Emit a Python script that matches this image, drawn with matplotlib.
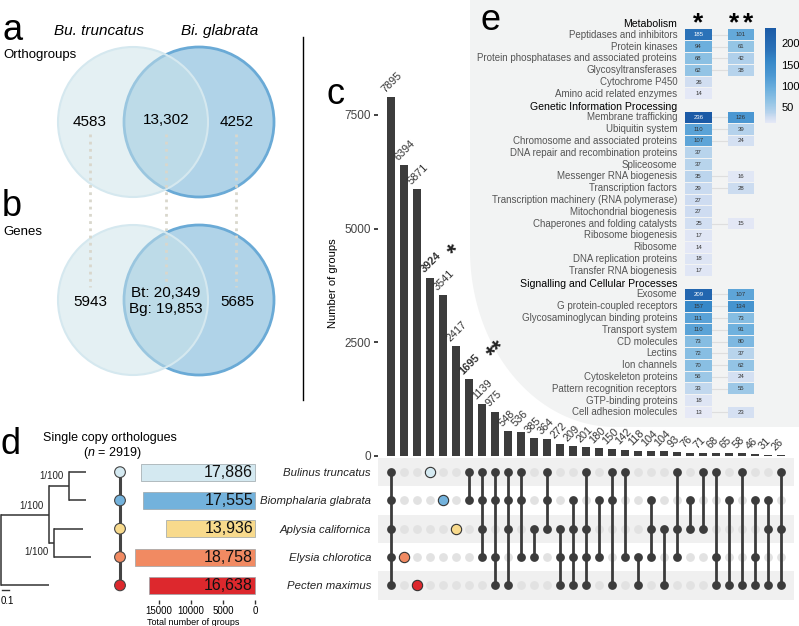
import numpy as np
import matplotlib
matplotlib.use('Agg')
import matplotlib.pyplot as plt
from matplotlib.patches import Circle, Polygon
from matplotlib.colors import LinearSegmentedColormap, Normalize

plt.rcParams['font.family'] = ['Liberation Sans', 'DejaVu Sans']
plt.rcParams['mathtext.fontset'] = 'custom'
plt.rcParams['mathtext.rm'] = 'Liberation Sans'
plt.rcParams['mathtext.it'] = 'Liberation Sans:italic'
plt.rcParams['mathtext.bf'] = 'Liberation Sans:bold'

W, H = 799, 626

# ---- panel a / b : venn ----
venn_titles = ['Bu. truncatus', 'Bi. glabrata']
orthogroups = [4583, 13302, 4252]
genes_unique = [5943, 5685]
genes_shared = [20349, 19853]

# ---- panel d ----
species = ['Bulinus truncatus', 'Biomphalaria glabrata', 'Aplysia californica',
           'Elysia chlorotica', 'Pecten maximus']
species_colors = ['#d4e9f1', '#73b2dc', '#f8da8c', '#f18a62', '#dd282d']
total_groups = [17886, 17555, 13936, 18758, 16638]
n_single_copy = 2919
# tree: node -> (depth from root, children); ints are leaves (row index)
tree_nodes = {'root': (0.0, ['gastro', 4]),
              'gastro': (0.686, ['panp', 'aplys']),
              'panp': (0.971, [0, 1]),
              'aplys': (0.757, [2, 3])}
leaf_depth = [1.214, 1.214, 1.171, 1.286, 0.686]
support = {'panp': '1/100', 'gastro': '1/100', 'aplys': '1/100'}

# ---- panel c : upset ----
set_codes = ['T', 'G', 'A', 'E', 'P']
inter_sizes = [7895, 6394, 5871, 3924, 3541, 2417, 1695, 1139, 975, 548, 536, 385, 364,
               272, 209, 201, 180, 150, 142, 118, 104, 104, 93, 76, 71, 68, 65, 58, 46, 31, 26]
inter_sets = ['TGAEP', 'E', 'P', 'T', 'G', 'A', 'TG', 'TGAE', 'TGEP', 'TGAP', 'TGE', 'AE',
              'TGA', 'AEP', 'GAEP', 'TAEP', 'GE', 'TGP', 'TE', 'EP', 'GAE', 'AP', 'TAE',
              'GA', 'TA', 'TEP', 'GP', 'TP', 'GEP', 'GAP', 'TAP']
starred = {3: '*', 6: '**'}

# ---- panel e : KEGG heatmap ----
kegg_groups = ['Metabolism', 'Genetic Information Processing',
               'Signalling and Cellular Processes']
kegg_terms = [
    ['Peptidases and inhibitors', 'Protein kinases',
     'Protein phosphatases and associated proteins', 'Glycosyltransferases',
     'Cytochrome P450', 'Amino acid related enzymes'],
    ['Membrane trafficking', 'Ubiquitin system', 'Chromosome and associated proteins',
     'DNA repair and recombination proteins', 'Spliceosome', 'Messenger RNA biogenesis',
     'Transcription factors', 'Transcription machinery (RNA polymerase)',
     'Mitochondrial biogenesis', 'Chaperones and folding catalysts', 'Ribosome biogenesis',
     'Ribosome', 'DNA replication proteins', 'Transfer RNA biogenesis'],
    ['Exosome', 'G protein-coupled receptors', 'Glycosaminoglycan binding proteins',
     'Transport system', 'CD molecules', 'Lectins', 'Ion channels', 'Cytoskeleton proteins',
     'Pattern recognition receptors', 'GTP-binding proteins', 'Cell adhesion molecules'],
]
nan = np.nan
kegg_star1 = [[185, 94, 68, 62, 26, 14],
              [236, 110, 107, 37, 37, 35, 29, 27, 27, 25, 17, 14, 18, 17],
              [209, 157, 111, 110, 73, 72, 70, 56, 33, 18, 13]]
kegg_star2 = [[101, 61, 42, 38, nan, nan],
              [126, 39, 24, nan, nan, 16, 28, nan, nan, 15, nan, nan, nan, nan],
              [107, 134, 73, 91, 80, 37, 62, 24, 55, nan, 23]]
cbar_ticks = [50, 100, 150, 200]

fig = plt.figure(figsize=(W / 100, H / 100), dpi=100)


def add_ax(x0, y0, x1, y1):
    a = fig.add_axes([x0 / W, 1 - y1 / H, (x1 - x0) / W, (y1 - y0) / H])
    a.patch.set_alpha(0)
    return a


# background layer in pixel coordinates
bg = add_ax(0, 0, W, H)
bg.set_xlim(0, W)
bg.set_ylim(H, 0)
bg.axis('off')

# grey backdrop of panel e
cx, cy, rx, ry = 615, 250, 145, 177
t = np.linspace(np.pi / 2, 0, 60)
arc = np.column_stack([cx - rx * np.cos(t), cy + ry * np.sin(t)])
pts = np.vstack([[[470, 0], [799, 0], [799, 427]], arc, [[470, 0]]])
bg.add_patch(Polygon(pts, closed=True, facecolor='#f2f3f3', edgecolor='none'))

# venn diagrams
for yc in (122, 300):
    bg.add_patch(Circle((199, yc), 75, facecolor='#b0d3e8', edgecolor='#6aaad6', lw=2))
    bg.add_patch(Circle((133, yc), 75, facecolor=(203 / 255, 227 / 255, 233 / 255),
                        alpha=0.5, edgecolor='none'))
    bg.add_patch(Circle((133, yc), 75, facecolor='none', edgecolor='#d5e8ef', lw=1.5))
for x in (90, 166, 236):
    bg.plot([x, x], [134, 287], color='#d9d7cc', lw=2, ls=(0, (1, 1.6)))

bg.text(99, 31, venn_titles[0], fontsize=11, style='italic', ha='center', va='center')
bg.text(220, 31, venn_titles[1], fontsize=11, style='italic', ha='center', va='center')
bg.text(3, 55, 'Orthogroups', fontsize=9.5, va='center')
bg.text(3, 232, 'Genes', fontsize=9.5, va='center')
bg.text(90, 122, f'{orthogroups[0]}', fontsize=11, ha='center', va='center')
bg.text(166, 120, f'{orthogroups[1]:,}', fontsize=11, ha='center', va='center')
bg.text(237, 122, f'{orthogroups[2]}', fontsize=11, ha='center', va='center')
bg.text(90, 302, f'{genes_unique[0]}', fontsize=11, ha='center', va='center')
bg.text(237, 302, f'{genes_unique[1]}', fontsize=11, ha='center', va='center')
bg.text(166, 301, f'Bt: {genes_shared[0]:,}\nBg: {genes_shared[1]:,}', fontsize=11,
        ha='center', va='center', linespacing=1.2)

# separator
bg.plot([303, 303], [37, 400], color='black', lw=1)

# panel letters
for lt, (x, y) in zip('abcde', [(2, 30), (2, 207), (326, 94), (1, 445), (481, 20)]):
    bg.text(x, y, lt, fontsize=26, ha='left', va='center')

bg.text(110, 438, 'Single copy orthologues', fontsize=9, ha='center', va='center')
bg.text(112, 453, f'($n$ = {n_single_copy})', fontsize=9, ha='center', va='center')

# ---- panel c bars ----
ax_c = add_ax(378, 60, 794, 456)
ncol = len(inter_sizes)
xs = np.arange(ncol)
ax_c.bar(xs, inter_sizes, width=0.56, color='#3c3c3c')
ax_c.set_xlim(-1, 31)
ax_c.set_ylim(0, 8709)
for s in ('top', 'right', 'left', 'bottom'):
    ax_c.spines[s].set_visible(False)
ax_c.set_xticks([])
ax_c.set_yticks([0, 2500, 5000, 7500])
ax_c.tick_params(axis='y', length=3, width=1.3, color='#333', labelsize=8.5,
                 labelcolor='#444', pad=2)
ax_c.set_ylabel('Number of groups', fontsize=8)
ax_c.yaxis.set_label_coords(-0.096, 0.437)
for i, v in enumerate(inter_sizes):
    bold = i in starred
    ax_c.annotate(str(v), xy=(i, v), xytext=(-3, 2), textcoords='offset points',
                  rotation=45, rotation_mode='anchor', ha='left', va='bottom',
                  fontsize=7.8, color='#333', fontweight='bold' if bold else 'normal')
    if bold:
        ax_c.annotate(starred[i], xy=(i, v), xytext=(22, 10), textcoords='offset points',
                      rotation=45, rotation_mode='anchor', ha='left', va='bottom',
                      fontsize=17, fontweight='bold', color='#222')

# ---- panel c matrix ----
ax_m = add_ax(378, 458, 794, 599.5)
ax_m.set_xlim(-1, 31)
ax_m.set_ylim(4.5, -0.5)
for r in (0, 2, 4):
    ax_m.axhspan(r - 0.5, r + 0.5, color='#f0f0f0', lw=0)
for i, code in enumerate(inter_sets):
    rows = [r for r, c in enumerate(set_codes) if c in code]
    empty = [r for r, c in enumerate(set_codes) if c not in code]
    ax_m.scatter([i] * len(empty), empty, s=40, color='#e2e2e2', lw=0, zorder=2)
    if len(rows) == 1:
        ax_m.scatter([i], rows, s=55, color=species_colors[rows[0]], edgecolor='#333',
                     lw=0.8, zorder=3)
    else:
        ax_m.plot([i, i], [min(rows), max(rows)], color='#3c3c3c', lw=2, zorder=3)
        ax_m.scatter([i] * len(rows), rows, s=40, color='#3c3c3c', lw=0, zorder=4)
ax_m.set_xticks([])
ax_m.set_yticks(range(5))
ax_m.set_yticklabels(species, fontsize=8.2, style='italic', color='#222')
ax_m.tick_params(axis='y', length=0, pad=5)
for s in ax_m.spines.values():
    s.set_visible(False)

# ---- panel d bars ----
ax_d = add_ax(128, 458, 258, 599.5)
ax_d.barh(range(5), total_groups, height=0.6, color=species_colors,
          edgecolor='#9aa4a8', lw=0.5)
ax_d.set_xlim(19844, -469)
ax_d.set_ylim(4.5, -0.5)
for r, v in enumerate(total_groups):
    ax_d.text(300, r, f'{v:,}', ha='right', va='center', fontsize=11.5, color='#111')
ax_d.set_yticks([])
ax_d.set_xticks([15000, 10000, 5000, 0])
ax_d.tick_params(axis='x', length=3, width=1, labelsize=7, pad=2, color='#333')
ax_d.set_xlabel('Total number of groups', fontsize=6.5, labelpad=1)
for s in ax_d.spines.values():
    s.set_visible(False)

# ---- panel d tree ----
ax_t = add_ax(0, 458, 130, 599.5)
ax_t.set_xlim(-1 / 70, 129 / 70)
ax_t.set_ylim(4.5, -0.5)
ax_t.axis('off')
support_side = {'panp': -0.38, 'gastro': -0.3, 'aplys': 0.33}


def draw_clade(name):
    if isinstance(name, int):
        return leaf_depth[name], name
    depth, kids = tree_nodes[name]
    ys = []
    for k in kids:
        kx, ky = draw_clade(k)
        ax_t.plot([depth, kx], [ky, ky], color='#333', lw=1.1, solid_capstyle='butt')
        ys.append(ky)
    ax_t.plot([depth, depth], [min(ys), max(ys)], color='#333', lw=1.1)
    y = np.mean(ys)
    if name in support:
        ax_t.text(depth - 0.08, y + support_side[name], support[name], fontsize=7,
                  ha='right', va='center', color='#222')
    return depth, y


draw_clade('root')
ax_t.plot([0.01, 0.11], [4.15, 4.15], color='#333', lw=1, clip_on=False)
ax_t.text(0.0, 4.55, '0.1', fontsize=7, ha='left', va='center', clip_on=False)
dot_x = 1.7
ax_t.plot([dot_x, dot_x], [0, 4], color='#444', lw=2.2)
ax_t.scatter([dot_x] * 5, range(5), s=60, c=species_colors, edgecolor='#444', lw=0.8,
             zorder=3)

# ---- panel e heatmap ----
cmap = LinearSegmentedColormap.from_list(
    'kegg', [(0, '#e6e9f6'), (0.06, '#cfddf1'), (0.11, '#b6d3ec'), (0.22, '#93c4e5'),
             (0.36, '#6cafdd'), (0.5, '#4c98d2'), (0.65, '#3788c8'), (0.77, '#2b72b8'),
             (1, '#1b5aa6')])
norm = Normalize(vmin=13, vmax=236)
ax_e = add_ax(680, 17.1, 760, 418.3)
ax_e.set_xlim(-0.435, 1.447)
ax_e.set_ylim(33.5, -0.5)
ax_e.axis('off')
slot = 0
for g, terms, v1s, v2s in zip(kegg_groups, kegg_terms, kegg_star1, kegg_star2):
    ax_e.text(-0.5, slot + 0.1, g, ha='right', va='center', fontsize=7.6, color='black',
              clip_on=False)
    slot += 1
    for term, v1, v2 in zip(terms, v1s, v2s):
        ax_e.text(-0.5, slot, term, ha='right', va='center', fontsize=7, color='#555',
                  clip_on=False)
        if not np.isnan(v2):
            ax_e.plot([0.32, 0.68], [slot, slot], color='#dedede', lw=0.8, zorder=1)
        for col, v in ((0, v1), (1, v2)):
            if np.isnan(v):
                continue
            ax_e.bar(col, 0.92, bottom=slot - 0.46, width=0.635, color=cmap(norm(v)),
                     zorder=2)
            ax_e.text(col, slot, f'{int(v)}', ha='center', va='center', fontsize=4.3,
                      color='white' if v > 180 else '#333', zorder=3)
        slot += 1
# mathtext keeps the box tight around the asterisks
ax_e.text(0, -0.1, r'$\mathbf{*}$', ha='center', va='center', fontsize=19)
ax_e.text(1, -0.1, r'$\mathbf{**}$', ha='center', va='center', fontsize=19)

cax = add_ax(765, 28, 776, 123)
cb = fig.colorbar(plt.cm.ScalarMappable(norm=norm, cmap=cmap), cax=cax, ticks=cbar_ticks)
cb.outline.set_visible(False)
cax.tick_params(length=0, labelsize=8, pad=4)

fig.savefig('out.png', dpi=100)
